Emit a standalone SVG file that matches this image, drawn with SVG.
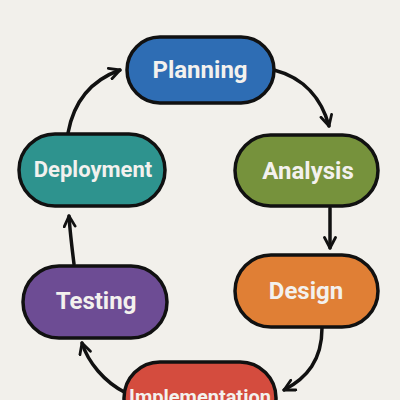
<svg xmlns="http://www.w3.org/2000/svg" width="400" height="400" viewBox="0 0 400 400">
<defs>
<marker id="arr" viewBox="0 0 14 14" refX="12" refY="7" markerWidth="14" markerHeight="14" markerUnits="userSpaceOnUse" orient="auto">
<path d="M1.5,1.5 L12,7 L1.5,12.5" fill="none" stroke="#111" stroke-width="2.8" stroke-linecap="round" stroke-linejoin="round"/>
</marker>
<style>
.n{stroke:#111;stroke-width:3.5}
.t{font-family:Roboto,"Liberation Sans",sans-serif;font-weight:700;font-size:24px;fill:#f3f1ee;text-anchor:middle}
.c{fill:none;stroke:#111;stroke-width:3.5;stroke-linecap:round}
</style>
</defs>
<rect width="400" height="400" fill="#f2f0eb"/>
<g id="connectors">
<path class="c" d="M274,70 C305,78 322,100 329,126" marker-end="url(#arr)"/>
<path class="c" d="M330,208 L330,248" marker-end="url(#arr)"/>
<path class="c" d="M322,328 C322,360 307,378 284,390" marker-end="url(#arr)"/>
<path class="c" d="M126,393 C104,382 88,362 82,343" marker-end="url(#arr)"/>
<path class="c" d="M74,264 C72,248 70,232 69,216" marker-end="url(#arr)"/>
<path class="c" d="M68,133 C74,100 92,80 120,70" marker-end="url(#arr)"/>
</g>
<g id="planning">
<rect class="n" x="127" y="37" width="147" height="66" rx="33" fill="#2e6db4"/>
<text class="t" x="200" y="78">Planning</text>
</g>
<g id="analysis">
<rect class="n" x="235" y="135" width="143" height="71" rx="35.5" fill="#76923c"/>
<text class="t" x="308" y="179">Analysis</text>
</g>
<g id="design">
<rect class="n" x="235" y="255" width="143" height="72" rx="36" fill="#e07f35"/>
<text class="t" x="306" y="299">Design</text>
</g>
<g id="implementation">
<rect class="n" x="124" y="362" width="152" height="72" rx="36" fill="#d44c3e"/>
<text class="t" x="200" y="404" style="font-size:20px">Implementation</text>
</g>
<g id="testing">
<rect class="n" x="23" y="266" width="144" height="72" rx="36" fill="#6d4c94"/>
<text class="t" x="96" y="309">Testing</text>
</g>
<g id="deployment">
<rect class="n" x="19" y="134" width="146" height="72" rx="36" fill="#2e938e"/>
<text class="t" x="93" y="177" style="font-size:22px">Deployment</text>
</g>
</svg>
